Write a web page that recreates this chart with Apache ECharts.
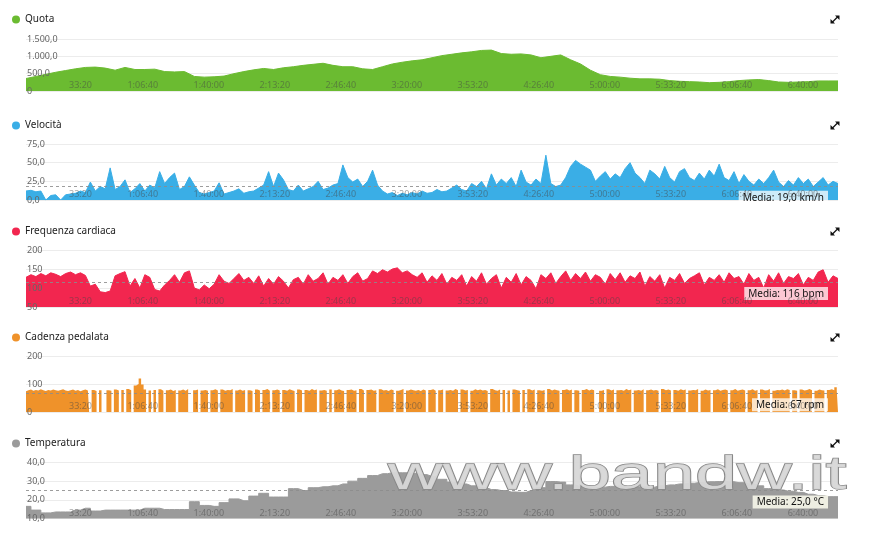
<!DOCTYPE html>
<html><head><meta charset="utf-8">
<script src="https://cdn.jsdelivr.net/npm/echarts@6/dist/echarts.min.js"></script>
<style>html,body{margin:0;padding:0;background:#fff}#c{width:871px;height:540px}</style>
</head><body><div id="c"></div>
<script>
// time axis (seconds)
const timeMax = 24600;
const tickStep = 2000;
const stepQuota = 300, stepFast = 150, stepCad = 75, stepTemp = 300;

const seriesNames = ['Quota', 'Velocità', 'Frequenza cardiaca', 'Cadenza pedalata', 'Temperatura'];

// Quota (m), one sample every 300 s
const quota = [360,420,480,540,590,640,680,690,660,600,680,620,620,630,560,550,560,420,400,410,
430,500,560,610,650,620,670,700,740,770,800,740,700,700,640,620,700,780,830,870,
900,960,1020,1060,1100,1130,1170,1180,1080,1060,1070,1040,960,1000,1040,900,780,600,470,420,
400,370,350,350,340,300,280,270,260,240,250,270,300,320,330,300,260,250,260,270,
290,290,290];

// Velocità (km/h), one sample every 150 s
const velocita = [12,13,11,12,0,6,7,0,7,8,9,12,10,24,12,18,15,43,14,18,
27,10,15,22,12,20,16,38,22,30,36,14,18,31,20,10,8,10,12,23,
8,10,12,15,9,11,12,16,20,38,18,36,27,14,12,20,12,15,18,25,
14,16,20,22,47,30,24,28,18,25,40,20,12,8,10,6,9,7,10,8,
12,9,10,14,11,12,16,20,14,12,22,18,25,15,35,20,28,22,30,18,
40,24,20,28,22,60,22,18,20,30,45,53,48,44,40,25,32,38,28,35,
30,42,50,36,30,22,40,35,28,45,30,24,38,42,30,26,36,28,40,32,
48,30,26,38,22,34,25,20,28,22,30,40,24,18,26,20,30,22,28,18,
24,30,20,25,22];

// Frequenza cardiaca (bpm), one sample every 150 s
const frequenza = [128,135,130,138,132,140,136,130,138,142,135,140,133,105,110,90,88,92,132,138,
143,105,125,100,135,128,96,92,108,120,135,115,140,145,100,95,108,98,110,135,
118,112,125,138,120,128,112,132,105,125,110,130,118,100,122,128,110,135,118,125,
140,110,128,120,135,112,130,140,118,125,145,138,148,142,150,153,140,145,135,128,
140,115,132,120,138,110,128,120,135,105,130,118,140,110,125,135,100,128,115,138,
108,130,120,98,135,125,140,112,130,145,120,138,125,142,118,135,128,110,138,122,
140,115,132,125,142,105,130,118,135,100,128,120,138,112,125,132,140,108,128,120,
135,115,140,125,130,110,138,120,128,100,135,118,140,112,130,125,138,108,128,120,
142,148,115,132,125];

// Cadenza pedalata (rpm), one sample every 75 s
const cadenza = [74,78,80,76,79,77,81,78,75,79,77,80,78,76,79,81,77,75,78,80,
76,79,74,78,80,77,0,79,75,0,78,0,0,78,76,0,80,77,0,79,
0,82,78,0,95,100,120,98,80,0,77,0,79,0,81,76,0,78,80,75,
79,0,77,80,76,82,0,0,78,80,0,77,79,76,0,78,81,77,0,80,
76,79,78,82,0,77,80,76,79,0,78,75,0,80,77,0,79,82,76,0,
78,80,77,0,79,76,81,78,75,0,80,77,0,79,76,82,78,80,0,77,
79,76,0,80,0,78,81,77,75,0,79,80,76,78,0,82,77,0,79,80,
76,78,0,81,77,79,75,80,78,0,76,79,82,0,77,80,78,76,79,75,
80,77,0,79,81,76,0,78,80,0,77,79,76,82,78,0,80,77,79,0,
76,81,78,80,77,79,75,0,82,78,76,80,0,79,0,77,0,80,78,76,
0,79,0,81,77,80,0,78,76,79,0,82,77,80,78,76,0,79,81,77,
80,0,78,76,0,79,82,77,80,78,0,0,76,79,0,81,77,80,0,78,
79,76,82,78,80,0,77,79,76,81,0,78,80,77,79,76,0,82,78,80,
77,0,79,76,81,78,80,0,77,79,78,82,0,76,80,77,79,0,78,81,
76,79,80,77,0,78,82,76,79,80,77,0,78,81,76,79,0,80,77,78,
82,0,76,79,78,80,77,81,79,0,78,76,0,80,77,79,82,78,0,76,
80,78,77,0,79,81,78,88,76];

// Temperatura (°C), one sample every 300 s
const temperatura = [16.5,14.5,13,13.5,13.5,14.5,15.5,14,14.5,14.5,14.5,14.5,15.5,15.5,14.8,14.8,14.8,19,17,16.5,
18.5,20.5,19.5,22,23.5,21.5,21.5,26,25,26.5,27,27.5,28.5,30,31.5,33,34,34.5,34.5,34.2,
33.5,32.5,31,29.5,28.5,27.5,26.5,25.5,25,24.2,24,25,26.5,29.8,29.5,28,27,26.5,26.8,27.2,
27.4,27,27,26.8,27.5,28,28.5,28.9,29.3,29.7,29.8,29.7,29.2,28.5,27.5,26,25.3,24.6,24,23,
22.3,21.7,21.7];

// averages
const mediaVelocita = 19.0, mediaFrequenza = 116, mediaCadenza = 67, mediaTemperatura = 25.0;

// y axis ranges [min, max, interval]
const yRanges = [[0,1500,500],[0,75,25],[50,200,50],[0,200,100],[10,40,10]];

const colors = ['#6bbb31','#3aaee6','#f2264f','#ef922a','#9b9b9b'];

function itNum(v, dec) {
  let s = Number(v).toFixed(dec);
  let [ip, dp] = s.split('.');
  ip = ip.replace(/\B(?=(\d{3})+(?!\d))/g, '.');
  return dp !== undefined ? ip + ',' + dp : ip;
}
function fmtTime(v) {
  if (v === 0 || v % tickStep !== 0) return '';
  const h = Math.floor(v / 3600), m = Math.floor((v % 3600) / 60), s = v % 60;
  const p = n => (n < 10 ? '0' : '') + n;
  return h > 0 ? h + ':' + p(m) + ':' + p(s) : m + ':' + p(s);
}
const yFormatters = [
  v => v === 0 ? '0' : itNum(v, 1),
  v => itNum(v, 1),
  v => itNum(v, 0),
  v => itNum(v, 0),
  v => itNum(v, 1)
];

const grids = [
  {left: 26, right: 33, top: 39, height: 52},
  {left: 26, right: 33, top: 144, height: 56},
  {left: 26, right: 33, top: 250, height: 57},
  {left: 26, right: 33, top: 356, height: 56},
  {left: 26, right: 33, top: 462.5, height: 56}
];
const font = '"Noto Sans", "Open Sans", sans-serif';

const xAxes = [], yAxes = [], legends = [], series = [], graphics = [];
const datasets = [
  quota.map((v, i) => [i * stepQuota, v]),
  velocita.map((v, i) => [i * stepFast, v]),
  frequenza.map((v, i) => [i * stepFast, v]),
  cadenza.map((v, i) => [i * stepCad, v]),
  temperatura.map((v, i) => [i * stepTemp, v])
];
const medias = [null,
  {v: mediaVelocita, t: 'Media: ' + itNum(mediaVelocita, 1) + ' km/h', bg: 'rgba(255,255,255,0.75)'},
  {v: mediaFrequenza, t: 'Media: ' + itNum(mediaFrequenza, 0) + ' bpm', bg: 'rgba(255,255,255,0.75)'},
  {v: mediaCadenza, t: 'Media: ' + itNum(mediaCadenza, 0) + ' rpm', bg: 'rgba(255,255,255,0.75)'},
  {v: mediaTemperatura, t: 'Media: ' + itNum(mediaTemperatura, 1) + ' °C', bg: 'rgba(245,245,232,0.92)'}
];

for (let k = 0; k < 5; k++) {
  xAxes.push({
    type: 'value', gridIndex: k, min: 0, max: timeMax, interval: tickStep, z: 5,
    axisLine: {show: false}, axisTick: {show: false}, splitLine: {show: false},
    axisLabel: {inside: true, align: 'right', margin: 1, formatter: fmtTime,
      color: 'rgba(70,70,70,0.5)', fontSize: 9, fontFamily: font}
  });
  // split lines (below series)
  yAxes.push({
    type: 'value', gridIndex: k, position: 'left', min: yRanges[k][0], max: yRanges[k][1], interval: yRanges[k][2], z: 0,
    axisLine: {show: false}, axisTick: {show: false}, axisLabel: {show: false},
    splitLine: {lineStyle: {color: '#ececec', width: 1}}
  });
  // labels (above series)
  yAxes.push({
    type: 'value', gridIndex: k, position: 'left', offset: 0, min: yRanges[k][0], max: yRanges[k][1], interval: yRanges[k][2], z: 5,
    axisLine: {show: false}, axisTick: {show: false}, splitLine: {show: false},
    axisLabel: {inside: true, margin: 1, formatter: yFormatters[k], color: '#666', fontSize: 9, fontFamily: font}
  });
  legends.push({
    data: [seriesNames[k]], left: 12, top: 14.5 + 106 * k, padding: 0, icon: 'circle', itemWidth: 8, itemHeight: 8,
    selectedMode: false, textStyle: {fontSize: 10, color: '#222', fontFamily: font}
  });
  const s = {
    name: seriesNames[k], type: 'line', xAxisIndex: k, yAxisIndex: 2 * k + 1, z: 2,
    data: datasets[k], symbol: 'none', showSymbol: false, color: colors[k],
    lineStyle: {width: k === 3 ? 0 : 1, color: colors[k]}, areaStyle: {color: colors[k], opacity: 1},
    animation: false
  };
  if (k === 4 || k === 3) s.step = 'middle';
  if (medias[k]) {
    s.markLine = {
      symbol: 'none', silent: true, animation: false,
      lineStyle: {color: 'rgba(140,140,140,0.85)', type: [3, 3], width: 1},
      data: [{yAxis: medias[k].v}],
      label: {position: 'insideEndBottom', formatter: medias[k].t, color: '#111', fontSize: 10,
        fontFamily: font, backgroundColor: medias[k].bg, padding: [2, 4, 1, 4], distance: [10, 5]}
    };
  }
  series.push(s);
  // expand icon
  const cy = 19.5 + 106 * k;
  graphics.push({type: 'group', silent: true, children: [
    {type: 'line', shape: {x1: 832, y1: cy + 3, x2: 838, y2: cy - 3}, style: {stroke: '#111', lineWidth: 1.2}},
    {type: 'polygon', shape: {points: [[835, cy - 4], [839.5, cy - 4], [839.5, cy + 0.5]]}, style: {fill: '#111'}},
    {type: 'polygon', shape: {points: [[830.5, cy + 4], [830.5, cy - 0.5], [835, cy + 4]]}, style: {fill: '#111'}}
  ]});
}

graphics.push({
  type: 'text', x: 388, y: 476.5, scaleX: 1.645, z: 100, silent: true,
  style: {text: 'www.bandw.it', font: '46px "Liberation Sans", Arial, sans-serif',
    fill: 'rgba(215,215,215,0.95)', stroke: '#888', lineWidth: 1.3,
    textVerticalAlign: 'middle', textAlign: 'left',
    shadowBlur: 2, shadowColor: 'rgba(0,0,0,0.35)', shadowOffsetX: 1.5, shadowOffsetY: 1.5}
});

const chart = echarts.init(document.getElementById('c'), null, {renderer: 'canvas'});
chart.setOption({
  animation: false,
  backgroundColor: '#fff',
  grid: grids, xAxis: xAxes, yAxis: yAxes, legend: legends, series: series, graphic: graphics
});
</script>
</body></html>
